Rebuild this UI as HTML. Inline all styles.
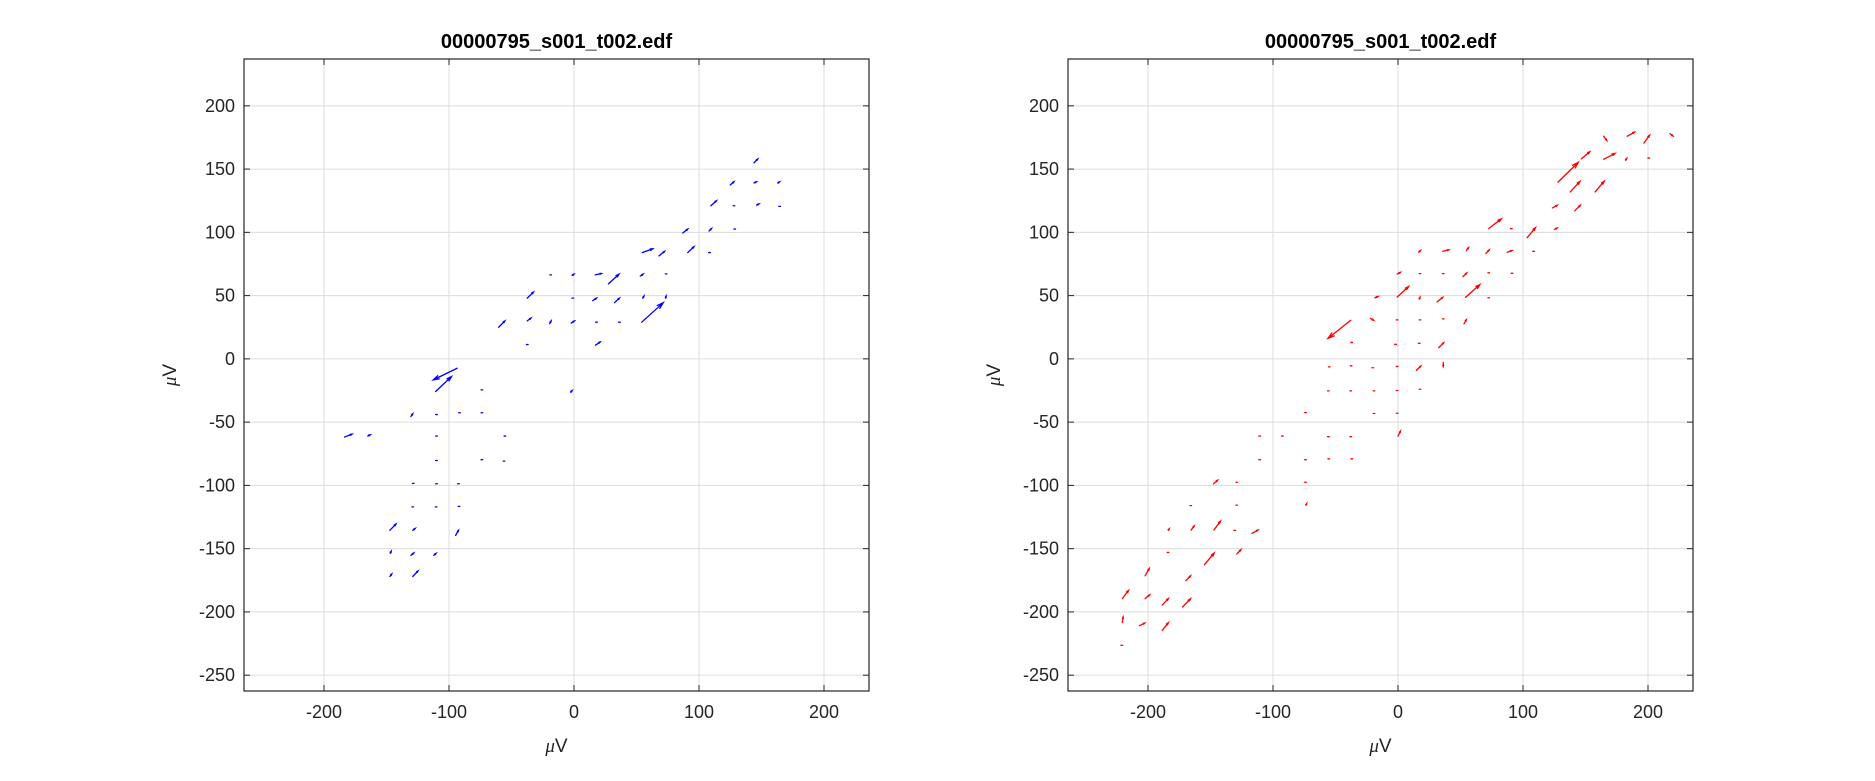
<!DOCTYPE html>
<html><head><meta charset="utf-8"><style>
html,body{margin:0;padding:0;background:#fff;}
svg{display:block;font-family:"Liberation Sans","DejaVu Sans",sans-serif;}
</style></head><body>
<svg id="fig" width="1875" height="781" viewBox="0 0 1875 781"></svg>
<script>
// ---- data: tail (x,y) and head (x2,y2) for each quiver arrow ----
const blueX  = [144,125,144,163,109.5,128,146,164.5,87,108,128.6,54.6,68,91,108.4,-18.7,-1.5,17,27.5,53,73.7,-37.4,-1,15,32.4,55,73.3,54.2,-60.3,-37.4,-19.5,-2.3,18,36.3,-37.4,17.2,-93.5,-110.7,-2.7,-73.7,-130.5,-110,-91.6,-73.7,-183.6,-165,-110,-55.3,-110,-73.7,-56,-128.6,-110,-92.4,-129,-110.3,-92,-147.3,-129,-94.7,-147,-130.5,-112.2,-147.3,-129];
const blueY  = [155,137.5,139,139,121,121,121.5,120.5,99.5,101,102.6,84,81.4,84,84,66.4,66,66.4,59.3,65.4,67.2,48,48,46,44.4,48,48,29,25,30,27.8,28.3,29,29,11.3,10.8,-7.4,-25.8,-26.3,-24.5,-45.5,-44,-42.6,-42.6,-61.8,-61,-61,-61,-80.3,-79.7,-80.8,-98.4,-98.7,-98.7,-117,-117,-116.6,-135.5,-135.5,-139.5,-153.7,-155.3,-155.3,-172,-172];
const blueX2 = [147,128,146,164.5,114,128.3,148,164.8,91,110,129,63,72.5,96,108.7,-18.4,0,22,36,55.3,74,-32.4,-0.7,18,36.3,56,73.7,71.4,-55.3,-34.4,-18.3,0.4,18.3,36.6,-37.1,21,-112.6,-98,-1.5,-73.4,-129,-109.7,-91.3,-73.4,-177.5,-163,-109.7,-55,-109.7,-73.4,-55.7,-128.3,-109.7,-92.1,-128.7,-110,-91.7,-142.4,-127,-92.4,-146.2,-128.2,-110.3,-145.8,-124.8];
const blueY2 = [158,140,140,140,125,121.2,122.5,120.8,102.6,103,102.9,87,85,88.7,84.3,66.7,67,67.5,67,67,67.5,52.8,48.3,48,48,49.7,49.7,44.4,30,32.3,30,30,29.3,29.3,11.6,13.4,-16.6,-14,-25,-24.2,-43.4,-43,-42.3,-42.3,-59.5,-60,-60.7,-60.7,-80,-79.4,-80.5,-98.1,-98.4,-98.4,-116.7,-116.7,-116.3,-130.5,-134,-135.5,-152,-153.4,-153.7,-170,-167.6];

const redX  = [164.5,183.4,196.7,217.6,146.6,164.5,182,200.6,128,137.8,157.7,123.5,141.4,72.6,90.6,103.3,125,16.6,35.8,54.7,70.4,87.3,108.5,-0.7,17.6,36.2,52,72.6,91.2,-0.7,-18.6,17,31.3,54,72.6,-22.1,-0.7,17.6,36.2,52.8,-37.8,-37.1,-2,17,32.6,-55,-37.5,-20.2,-0.7,14.7,36.2,-55.7,-37.8,-19.2,-0.7,17.6,-74,-19.2,-0.7,-110.7,-92.5,-55.7,-37.8,0,-110.7,-74,-55.4,-37,-147.6,-129,-74,-165.8,-129,-73.6,-183.7,-165.5,-147.3,-130.6,-116.9,-184,-129,-154.8,-202.3,-169.7,-220.5,-202.3,-188.6,-172.3,-220.5,-206.8,-188.6,-221];
const redY  = [176,176,170.5,178,158,157.7,157,158.7,139.7,131.9,131.9,119.3,117,103,103,95.8,102.3,84.3,85,85.6,83.3,84.3,85,67,67.4,67.4,65,68,67.6,48.8,48.3,47.3,45,48.6,48.3,32.1,30.8,30.8,31.6,27.7,30.5,13,11.5,12.3,8.9,-6.3,-5.5,-7,-6,-9.1,-2.9,-25.3,-25.3,-25.3,-25,-24,-42.4,-43.2,-43,-61,-61,-61.5,-61.5,-61,-79.7,-79.7,-79,-79,-98.8,-97.5,-97.5,-116,-115.6,-115.6,-135.3,-135.3,-135.3,-135.6,-138,-153,-154.2,-162.6,-171.5,-175.2,-189.4,-189.4,-194.6,-196,-208.3,-210.9,-214.6,-226.4];
const redX2 = [167,189.2,201.3,219.9,153.4,173.6,183,200.9,144.3,145.6,165,127.4,145.9,82.7,90.9,110,127.4,18,40.7,56.4,73,91.2,108.8,2,17.9,36.5,55,72.9,91.5,8.5,-16,17.6,35.8,65.5,72.9,-19.5,-0.4,17.9,36.5,54.7,-56,-36.8,-1.7,17.3,36.5,-54.7,-37.2,-19.9,-0.4,18.2,36.2,-55.4,-37.5,-18.9,-0.4,17.9,-73.7,-18.9,-0.4,-110.4,-92.2,-55.4,-37.5,2,-110.4,-73.7,-55.1,-36.7,-144.3,-128.7,-73.7,-165.5,-128.7,-73,-183,-163,-142,-130.3,-112,-183.7,-125.7,-147,-199,-166,-215.6,-198.7,-183.7,-166,-219.9,-202.6,-183.7,-220.7];
const redY2 = [172.6,179.2,176.8,176.2,163.7,162.4,158.5,159,155.4,140.3,140.5,121.4,121.4,110.7,103.3,103.7,103.4,85.6,86.2,88,86.2,85.6,85.3,68.4,67.7,67.7,67.9,68.3,67.9,57.2,49.3,48.8,48.6,58.7,48.6,30.5,31.1,31.1,32,31,16.2,13.3,11.8,12.6,12.8,-6,-5.2,-6.7,-5.7,-5.7,-6,-25,-25,-25,-24.7,-23.7,-42.1,-42.9,-42.7,-60.7,-60.7,-61.2,-61.2,-57,-79.4,-79.4,-78.7,-78.7,-95.9,-97.2,-97.2,-115.7,-115.3,-114.3,-134.3,-132,-128.2,-135.3,-135.3,-152.7,-150.8,-153.4,-165.7,-171.5,-183,-186.5,-189.4,-189.6,-204,-208.8,-208.5,-226.1];

const xTicks = [-200,-100,0,100,200];
const yTicks = [-250,-200,-150,-100,-50,0,50,100,150,200];
const xLim = [-264,236], yLim = [-262.5,237];
const titleText = "00000795_s001_t002.edf";

const NS="http://www.w3.org/2000/svg";
const svg=document.getElementById('fig');
function mk(tag,attrs,parent){const e=document.createElementNS(NS,tag);for(const k in attrs)e.setAttribute(k,attrs[k]);(parent||svg).appendChild(e);return e;}

function panel(px,py,pw,ph,xs,ys,x2s,y2s,color,tag){
  const g=mk('g',{});
  
  
  const sx=v=>px+(v-xLim[0])/(xLim[1]-xLim[0])*pw;
  const sy=v=>py+ph-(v-yLim[0])/(yLim[1]-yLim[0])*ph;
  xTicks.forEach(t=>{const l=mk('line',{x1:sx(t),x2:sx(t),y1:py,y2:py+ph,stroke:'#dcdcdc','stroke-width':1},g);
    });
  yTicks.forEach(t=>{const l=mk('line',{x1:px,x2:px+pw,y1:sy(t),y2:sy(t),stroke:'#dcdcdc','stroke-width':1},g);
    });
  const ag=mk('g',{stroke:color,'stroke-width':1.3,fill:'none','stroke-linecap':'round'},g);
  
  
  for(let i=0;i<xs.length;i++){
    const x1=sx(xs[i]),y1=sy(ys[i]),x2=sx(x2s[i]),y2=sy(y2s[i]);
    let dx=x2-x1,dy=y2-y1,L=Math.hypot(dx,dy);
    let d;
    if(L<1.5){d=`M${x1-0.8},${y1}L${x1+0.8},${y1}`;}
    else{
      const ux=dx/L,uy=dy/L,h=Math.max(1.5,L*0.22),w=h*0.3;
      const bx=x2-ux*h,by=y2-uy*h;
      d=`M${x1},${y1}L${x2},${y2}M${bx-uy*w},${by+ux*w}L${x2},${y2}L${bx+uy*w},${by-ux*w}`;
    }
    const p=mk('path',{d:d},ag);
    
    
  }
  const b=mk('rect',{x:px,y:py,width:pw,height:ph,fill:'none',stroke:'#262626','stroke-width':1.2},g);
  
  xTicks.forEach(t=>{
    mk('line',{x1:sx(t),x2:sx(t),y1:py+ph,y2:py+ph-6,stroke:'#262626'},g);
    mk('line',{x1:sx(t),x2:sx(t),y1:py,y2:py+6,stroke:'#262626'},g);
    const tx=mk('text',{x:sx(t),y:py+ph+27,'text-anchor':'middle','font-size':18,fill:'#262626'},g);
    tx.textContent=String(t);
    
  });
  yTicks.forEach(t=>{
    mk('line',{x1:px,x2:px+6,y1:sy(t),y2:sy(t),stroke:'#262626'},g);
    mk('line',{x1:px+pw,x2:px+pw-6,y1:sy(t),y2:sy(t),stroke:'#262626'},g);
    const tx=mk('text',{x:px-9,y:sy(t)+6,'text-anchor':'end','font-size':18,fill:'#262626'},g);
    tx.textContent=String(t);
    
  });
  const ti=mk('text',{x:px+pw/2,y:py-11,'text-anchor':'middle','font-size':20,'font-weight':'bold',fill:'#000'},g);
  ti.textContent=titleText;
  
  const xl=mk('text',{x:px+pw/2,y:py+ph+61,'text-anchor':'middle','font-size':19,fill:'#262626'},g);
  xl.innerHTML='<tspan font-family="Liberation Serif" font-style="italic">μ</tspan>V';
  
  const yx=px-68,yy=py+ph/2;
  const yl=mk('text',{x:yx,y:yy,'text-anchor':'middle','font-size':19,fill:'#262626',transform:`rotate(-90 ${yx} ${yy})`},g);
  yl.innerHTML='<tspan font-family="Liberation Serif" font-style="italic">μ</tspan>V';
  
}
panel(244,59,625,632,blueX,blueY,blueX2,blueY2,'#0000ff','left');
panel(1068,59,625,632,redX,redY,redX2,redY2,'#ff0000','right');
</script>
</body></html>
